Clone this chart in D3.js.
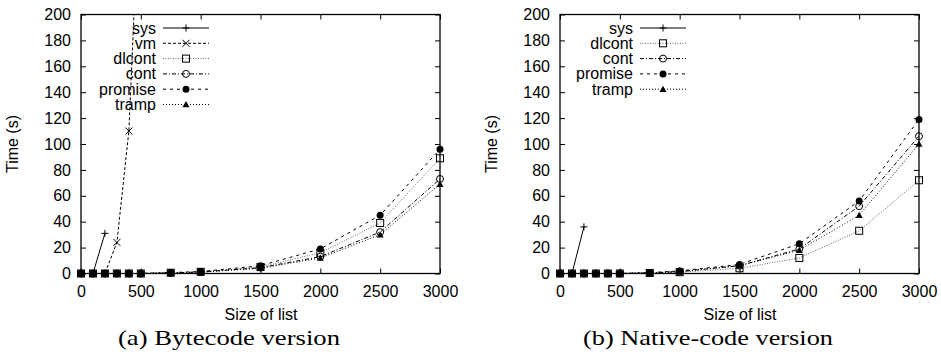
<!DOCTYPE html>
<html>
<head>
<meta charset="utf-8">
<script src="https://cdn.jsdelivr.net/npm/d3@7"></script>
<style>
  body { margin: 0; background: #fff; }
  svg text { font-family: "Liberation Sans", Arial, sans-serif; }
</style>
</head>
<body>
<svg id="chart" width="941" height="355"></svg>
<script>
// list sizes measured
let sizes = [0, 100, 200, 300, 400, 500, 750, 1000, 1500, 2000, 2500, 3000];
let xTicks = [0, 500, 1000, 1500, 2000, 2500, 3000];
let yTicks = [0, 20, 40, 60, 80, 100, 120, 140, 160, 180, 200];

// (a) bytecode
let byteSys     = [0, 0, 31];
let byteVm      = [0, 0, 0, 24, 110, 320];
let byteDlcont  = [0, 0, 0, 0, 0, 0, 0.6, 1.3, 5, 16, 39, 89];
let byteCont    = [0, 0, 0, 0, 0, 0, 0.5, 1.1, 4.5, 13, 32, 73];
let bytePromise = [0, 0, 0, 0, 0, 0, 0.7, 1.5, 6, 19, 45, 96];
let byteTramp   = [0, 0, 0, 0, 0, 0, 0.5, 1.0, 4, 12, 30, 69];

// (b) native code
let natSys     = [0, 0, 36];
let natDlcont  = [0, 0, 0, 0, 0, 0, 0.4, 1.0, 4, 12, 33, 72];
let natCont    = [0, 0, 0, 0, 0, 0, 0.5, 1.5, 6, 19, 52, 106];
let natPromise = [0, 0, 0, 0, 0, 0, 0.7, 2.0, 7, 23, 56, 119];
let natTramp   = [0, 0, 0, 0, 0, 0, 0.5, 1.4, 6, 18, 45, 100];

// line / marker style per series name
let styles = {
  sys:     { dash: null,      color: "#000", mark: "plus" },
  vm:      { dash: "3,2",     color: "#000", mark: "cross" },
  dlcont:  { dash: "1,1.5",   color: "#666", mark: "square" },
  cont:    { dash: "4,2,1,2", color: "#000", mark: "circle" },
  promise: { dash: "3,4",     color: "#000", mark: "dot" },
  tramp:   { dash: "1,2",     color: "#000", mark: "triangle" }
};

let svg = d3.select("#chart");
let sans = '"Liberation Sans", Arial, sans-serif';

function drawMark(g, kind, x, y) {
  let s = 3.5;
  if (kind == "plus") {
    g.append("path").attr("d", `M${x-s},${y}H${x+s}M${x},${y-s}V${y+s}`)
      .attr("stroke", "#000").attr("stroke-width", 1);
  } else if (kind == "cross") {
    g.append("path").attr("d", `M${x-s},${y-s}L${x+s},${y+s}M${x-s},${y+s}L${x+s},${y-s}`)
      .attr("stroke", "#000").attr("stroke-width", 1);
  } else if (kind == "square") {
    g.append("rect").attr("x", x-s).attr("y", y-s).attr("width", 2*s).attr("height", 2*s)
      .attr("fill", "none").attr("stroke", "#000").attr("stroke-width", 1);
  } else if (kind == "circle") {
    g.append("circle").attr("cx", x).attr("cy", y).attr("r", s)
      .attr("fill", "none").attr("stroke", "#000").attr("stroke-width", 1);
  } else if (kind == "dot") {
    g.append("circle").attr("cx", x).attr("cy", y).attr("r", s).attr("fill", "#000");
  } else if (kind == "triangle") {
    g.append("path").attr("d", `M${x},${y-s}L${x+s},${y+s*0.8}L${x-s},${y+s*0.8}Z`).attr("fill", "#000");
  }
}

function drawPanel(id, left, series, legendRight, caption, captionWidth) {
  let x = d3.scaleLinear().domain([0, 3000]).range([left, left + 359]);
  let y = d3.scaleLinear().domain([0, 200]).range([273.5, 14.5]);
  let g = svg.append("g");

  g.append("clipPath").attr("id", "clip" + id)
    .append("rect").attr("x", left).attr("y", 14.5).attr("width", 359).attr("height", 259);

  // ticks on all four sides, pointing inward
  let tickLen = 5;
  let fmt = d3.format("d");
  let bottom = g.append("g").attr("transform", "translate(0,273.5)")
    .call(d3.axisBottom(x).tickValues(xTicks).tickSize(-tickLen).tickPadding(12).tickFormat(fmt));
  let top = g.append("g").attr("transform", "translate(0,14.5)")
    .call(d3.axisTop(x).tickValues(xTicks).tickSize(-tickLen).tickFormat(""));
  let leftAx = g.append("g").attr("transform", `translate(${left},0)`)
    .call(d3.axisLeft(y).tickValues(yTicks).tickSize(-tickLen).tickPadding(10).tickFormat(fmt));
  let rightAx = g.append("g").attr("transform", `translate(${left+359},0)`)
    .call(d3.axisRight(y).tickValues(yTicks).tickSize(-tickLen).tickFormat(""));
  [bottom, top, leftAx, rightAx].forEach(a => {
    a.select(".domain").remove();
    a.selectAll("line").attr("stroke", "#000");
    a.selectAll("text").attr("font-size", 16).attr("fill", "#000").style("font-family", sans);
  });
  g.append("rect").attr("x", left).attr("y", 14.5).attr("width", 359).attr("height", 259)
    .attr("fill", "none").attr("stroke", "#000").attr("stroke-width", 1.3);

  let plot = g.append("g");
  let line = d3.line().x(d => x(d[0])).y(d => y(d[1]));

  series.forEach(s => {
    let st = styles[s.name];
    let pts = s.values.map((v, i) => [sizes[i], v]);
    plot.append("path").datum(pts)
      .attr("d", line)
      .attr("clip-path", `url(#clip${id})`)
      .attr("fill", "none")
      .attr("stroke", st.color)
      .attr("stroke-width", 1)
      .attr("stroke-dasharray", st.dash);
    pts.filter(p => p[1] <= 200).forEach(p => drawMark(plot, st.mark, x(p[0]), y(p[1])));
  });

  // legend
  let lg = g.append("g");
  series.forEach((s, i) => {
    let st = styles[s.name];
    let ly = 28 + i * 15.3;
    lg.append("text").attr("x", legendRight).attr("y", ly + 5.5)
      .attr("text-anchor", "end").attr("font-size", 16).attr("fill", "#000").text(s.name);
    lg.append("line").attr("x1", legendRight + 7).attr("x2", legendRight + 53)
      .attr("y1", ly).attr("y2", ly)
      .attr("stroke", st.color).attr("stroke-width", 1).attr("stroke-dasharray", st.dash);
    drawMark(lg, st.mark, legendRight + 30, ly);
  });

  // axis titles
  g.append("text").attr("x", left + 180).attr("y", 320)
    .attr("text-anchor", "middle").attr("font-size", 16).text("Size of list");
  g.append("text").attr("transform", `translate(${left - 63},144) rotate(-90)`)
    .attr("text-anchor", "middle").attr("font-size", 16).text("Time (s)");

  g.append("text").attr("x", left + 148).attr("y", 345)
    .attr("text-anchor", "middle").attr("font-size", 22)
    .attr("textLength", captionWidth).attr("lengthAdjust", "spacingAndGlyphs")
    .style("font-family", '"Liberation Serif", "DejaVu Serif", serif')
    .text(caption);
}

drawPanel("a", 81, [
  { name: "sys", values: byteSys },
  { name: "vm", values: byteVm },
  { name: "dlcont", values: byteDlcont },
  { name: "cont", values: byteCont },
  { name: "promise", values: bytePromise },
  { name: "tramp", values: byteTramp }
], 156, "(a) Bytecode version", 222);

drawPanel("b", 560, [
  { name: "sys", values: natSys },
  { name: "dlcont", values: natDlcont },
  { name: "cont", values: natCont },
  { name: "promise", values: natPromise },
  { name: "tramp", values: natTramp }
], 633, "(b) Native-code version", 250);
</script>
</body>
</html>
